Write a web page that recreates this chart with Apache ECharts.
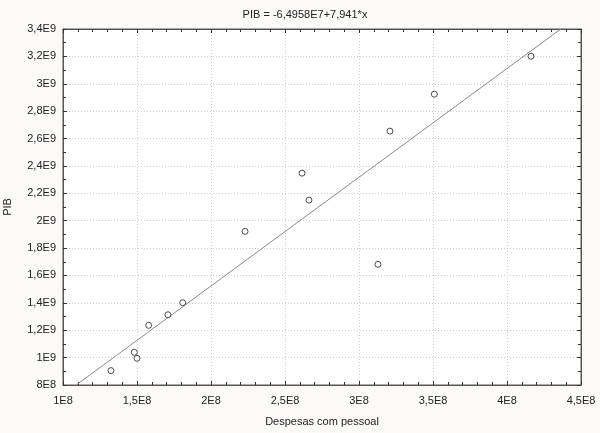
<!DOCTYPE html>
<html><head><meta charset="utf-8">
<script src="https://cdn.jsdelivr.net/npm/echarts@6/dist/echarts.min.js"></script>
<style>html,body{margin:0;padding:0;background:#fcf9f9;}#c{width:600px;height:433px;}</style>
</head><body><div id="c"></div>
<script>
const despesas = [1.324e8, 1.482e8, 1.500e8, 1.579e8, 1.709e8, 1.809e8, 2.230e8, 2.615e8, 2.662e8, 3.128e8, 3.209e8, 3.509e8, 4.162e8];
const pib      = [9.05e8, 1.039e9, 9.95e8, 1.236e9, 1.313e9, 1.401e9, 1.922e9, 2.347e9, 2.150e9, 1.681e9, 2.654e9, 2.924e9, 3.201e9];
const intercept = -6.4958e7;
const slope = 7.941;
const xMin = 1e8, xMax = 4.5e8, xStep = 0.5e8;
const yMin = 8e8, yMax = 3.4e9, yStep = 2e8;
const titleText = 'PIB = -6,4958E7+7,941*x';
const xName = 'Despesas com pessoal';
const yName = 'PIB';

function fmt(v){
  if (v === 0) return '0';
  let e = Math.floor(Math.log10(Math.abs(v)) + 1e-9);
  let m = v / Math.pow(10, e);
  m = Math.round(m * 1000) / 1000;
  return String(m).replace('.', ',') + 'E' + e;
}
// regression line endpoints clipped to the axis range
const lx0 = (yMin - intercept) / slope;
const lx1 = (yMax - intercept) / slope;
const fitLine = [[lx0, intercept + slope * lx0], [lx1, intercept + slope * lx1]];

const font = 'Liberation Sans';
const txt = '#222';
const chart = echarts.init(document.getElementById('c'));
const axisCommon = {
  axisLine: {show: true, lineStyle: {color: '#555', width: 1}},
  axisTick: {show: true, inside: true, length: 4, lineStyle: {color: '#333'}},
  splitLine: {show: true, lineStyle: {color: '#cfcfcf', type: [1, 2], width: 1}},
  axisLabel: {color: txt, fontFamily: font, fontSize: 11, formatter: fmt}
};
chart.setOption({
  backgroundColor: '#fcf9f9',
  animation: false,
  title: {text: titleText, top: 4, left: 300, textAlign: 'center',
    textStyle: {fontFamily: font, fontSize: 11, fontWeight: 'normal', color: txt}},
  grid: {left: 63, right: 19, top: 29, bottom: 48, containLabel: false, outerBoundsMode: 'none',
    show: true, backgroundColor: '#ffffff', borderColor: '#555', borderWidth: 1},
  xAxis: [Object.assign({}, axisCommon, {
    type: 'value', min: xMin, max: xMax, interval: xStep,
    minorTick: {show: true, splitNumber: 5, length: 3, lineStyle: {color: '#333'}},
    name: xName, nameLocation: 'middle', nameGap: 31,
    nameTextStyle: {fontFamily: font, fontSize: 11, color: txt},
    axisLabel: Object.assign({}, axisCommon.axisLabel, {margin: 10, showMaxLabel: true})
  }), {
    type: 'value', position: 'top', min: xMin, max: xMax, interval: xStep,
    axisLine: {show: true, lineStyle: {color: '#555'}},
    axisTick: {show: true, inside: true, length: 4, lineStyle: {color: '#333'}},
    minorTick: {show: true, splitNumber: 5, length: 3, lineStyle: {color: '#333'}},
    axisLabel: {show: false}, splitLine: {show: false}
  }],
  yAxis: [Object.assign({}, axisCommon, {
    type: 'value', min: yMin, max: yMax, interval: yStep,
    minorTick: {show: true, splitNumber: 2, length: 3, lineStyle: {color: '#333'}},
    name: yName, nameLocation: 'middle', nameGap: 50,
    nameTextStyle: {fontFamily: font, fontSize: 11, color: txt},
    axisLabel: Object.assign({}, axisCommon.axisLabel, {margin: 7})
  }), {
    type: 'value', position: 'right', min: yMin, max: yMax, interval: yStep,
    axisLine: {show: true, lineStyle: {color: '#555'}},
    axisTick: {show: true, inside: true, length: 4, lineStyle: {color: '#333'}},
    minorTick: {show: true, splitNumber: 2, length: 3, lineStyle: {color: '#333'}},
    axisLabel: {show: false}, splitLine: {show: false}
  }],
  series: [{
    type: 'line', data: fitLine, symbol: 'none', xAxisIndex: 0, yAxisIndex: 0,
    lineStyle: {color: '#8a8a8a', width: 1}, z: 2
  }, {
    type: 'scatter', data: despesas.map((x, i) => [x, pib[i]]), xAxisIndex: 0, yAxisIndex: 0,
    symbol: 'circle', symbolSize: 6,
    itemStyle: {color: '#ffffff', borderColor: '#222', borderWidth: 1}, z: 3
  }]
});
</script></body></html>
